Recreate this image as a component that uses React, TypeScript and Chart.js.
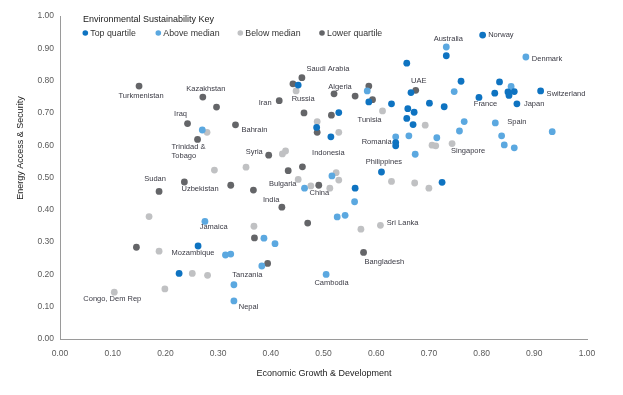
import React, { useEffect, useRef } from "react";
import { Chart, registerables } from "chart.js";

Chart.register(...registerables);

// ---------- data ----------
const SERIES_NAMES = ["Top quartile", "Above median", "Below median", "Lower quartile"];
const SERIES_COLORS = ["#0e73c1", "#5ba8e0", "#c0c1c3", "#646568"];

const X_TICKS = [0, 0.1, 0.2, 0.3, 0.4, 0.5, 0.6, 0.7, 0.8, 0.9, 1.0];
const Y_TICKS = [0, 0.1, 0.2, 0.3, 0.4, 0.5, 0.6, 0.7, 0.8, 0.9, 1.0];

const X_TITLE = "Economic Growth & Development";
const Y_TITLE = "Energy Access & Security";
const LEGEND_TITLE = "Environmental Sustainability Key";

// Top quartile
const topX = [0.802, 0.733, 0.658, 0.761, 0.834, 0.825, 0.850, 0.862, 0.852, 0.912, 0.795, 0.867, 0.666, 0.701, 0.729, 0.660, 0.672, 0.658, 0.670, 0.629, 0.586, 0.529, 0.452, 0.487, 0.514, 0.637, 0.637, 0.610, 0.560, 0.725, 0.262, 0.226];
const topY = [0.941, 0.877, 0.854, 0.798, 0.796, 0.761, 0.765, 0.766, 0.754, 0.768, 0.748, 0.728, 0.763, 0.730, 0.719, 0.713, 0.702, 0.683, 0.664, 0.728, 0.734, 0.701, 0.786, 0.655, 0.626, 0.608, 0.598, 0.517, 0.467, 0.485, 0.288, 0.203];
const topNames = ["Norway", "", "", "", "", "", "", "", "", "Switzerland", "France", "Japan", "", "", "", "", "", "", "", "", "", "", "", "", "Indonesia", "Romania", "", "Philippines", "", "", "Mozambique", ""];

// Above median
const aboveX = [0.733, 0.884, 0.748, 0.856, 0.583, 0.767, 0.826, 0.758, 0.934, 0.662, 0.715, 0.838, 0.843, 0.862, 0.674, 0.637, 0.270, 0.516, 0.464, 0.559, 0.526, 0.541, 0.387, 0.408, 0.275, 0.314, 0.324, 0.383, 0.330, 0.330, 0.505];
const aboveY = [0.904, 0.873, 0.766, 0.782, 0.768, 0.673, 0.669, 0.644, 0.642, 0.629, 0.623, 0.629, 0.601, 0.592, 0.572, 0.626, 0.647, 0.505, 0.467, 0.425, 0.378, 0.383, 0.312, 0.295, 0.364, 0.260, 0.263, 0.226, 0.168, 0.118, 0.200];
const aboveNames = ["Australia", "Denmark", "", "", "", "", "Spain", "", "", "", "", "", "", "", "", "", "", "", "Bulgaria", "", "", "", "", "", "Jamaica", "", "", "Tanzania", "", "Nepal", "Cambodia"];

// Below median
const belowX = [0.448, 0.612, 0.488, 0.529, 0.693, 0.706, 0.713, 0.744, 0.279, 0.293, 0.353, 0.422, 0.428, 0.524, 0.529, 0.629, 0.452, 0.476, 0.512, 0.673, 0.700, 0.169, 0.368, 0.571, 0.608, 0.188, 0.251, 0.280, 0.199, 0.103];
const belowY = [0.768, 0.706, 0.673, 0.640, 0.662, 0.600, 0.598, 0.605, 0.640, 0.523, 0.532, 0.573, 0.582, 0.515, 0.492, 0.488, 0.494, 0.474, 0.467, 0.483, 0.467, 0.379, 0.349, 0.340, 0.352, 0.272, 0.203, 0.197, 0.155, 0.145];
const belowNames = ["Russia", "Tunisia", "", "", "", "", "", "Singapore", "", "", "", "", "", "", "", "", "", "", "", "", "", "", "", "", "Sri Lanka", "", "", "", "", "Congo, Dem Rep"];

// Lower quartile
const lowerX = [0.150, 0.271, 0.297, 0.242, 0.333, 0.261, 0.459, 0.442, 0.416, 0.520, 0.560, 0.586, 0.593, 0.675, 0.463, 0.515, 0.488, 0.396, 0.460, 0.433, 0.236, 0.188, 0.324, 0.367, 0.491, 0.421, 0.470, 0.369, 0.394, 0.576, 0.145];
const lowerY = [0.783, 0.749, 0.718, 0.667, 0.663, 0.618, 0.809, 0.790, 0.738, 0.759, 0.752, 0.783, 0.741, 0.770, 0.700, 0.693, 0.640, 0.569, 0.533, 0.521, 0.486, 0.457, 0.476, 0.461, 0.476, 0.408, 0.359, 0.313, 0.234, 0.268, 0.284];
const lowerNames = ["Turkmenistan", "Kazakhstan", "", "Iraq", "Bahrain", "Trinidad &\nTobago", "Saudi Arabia", "", "Iran", "Algeria", "", "", "", "UAE", "", "", "", "Syria", "", "", "Uzbekistan", "Sudan", "", "", "China", "India", "", "", "", "Bangladesh", ""];

// ---------- layout (label offsets in px from the point: dx, dy, align) ----------
const LABEL_LAYOUT: Record<string, [number, number, CanvasTextAlign]> = {
  "Turkmenistan": [2, 10, "center"],
  "Kazakhstan": [3, -8, "center"],
  "Iraq": [-7, -10, "center"],
  "Trinidad &\nTobago": [-26, 7.5, "left"],
  "Bahrain": [6, 5, "left"],
  "Iran": [-14, 2, "center"],
  "Saudi Arabia": [26, -8.5, "center"],
  "Russia": [7, 8, "center"],
  "Algeria": [6, -7, "center"],
  "Tunisia": [-13, 9, "center"],
  "UAE": [3, -9, "center"],
  "Australia": [2, -8, "center"],
  "Norway": [5.5, 0, "left"],
  "Denmark": [6, 2, "left"],
  "Switzerland": [6, 3, "left"],
  "Japan": [7, 0, "left"],
  "France": [6.5, 7, "center"],
  "Spain": [12, -1, "left"],
  "Singapore": [16, 7, "center"],
  "Romania": [-4, -0.5, "right"],
  "Indonesia": [-2.5, 16.5, "center"],
  "Syria": [-14.5, -3, "center"],
  "Philippines": [2.5, -9.7, "center"],
  "Bulgaria": [-8, -4, "right"],
  "China": [0.6, 7.7, "center"],
  "India": [-10.7, -7.3, "center"],
  "Uzbekistan": [15.7, 7.3, "center"],
  "Sudan": [-4, -12, "center"],
  "Jamaica": [8.7, 5.7, "center"],
  "Mozambique": [-5, 7.3, "center"],
  "Congo, Dem Rep": [-2, 7, "center"],
  "Tanzania": [-14.5, 9, "center"],
  "Nepal": [14.6, 6, "center"],
  "Cambodia": [5.4, 8.7, "center"],
  "Bangladesh": [20.7, 9.7, "center"],
  "Sri Lanka": [6.4, -2.6, "left"],
};

const FONT = "'Liberation Sans', Arial, sans-serif";
const W = 623;
const H = 395;

const seriesX = [topX, aboveX, belowX, lowerX];
const seriesY = [topY, aboveY, belowY, lowerY];
const seriesNames = [topNames, aboveNames, belowNames, lowerNames];

const overlayPlugin = {
  id: "overlay",
  afterDatasetsDraw(chart: any) {
    const ctx = chart.ctx as CanvasRenderingContext2D;
    const xs = chart.scales.x;
    const ys = chart.scales.y;
    ctx.save();

    // Country labels
    ctx.font = `7.5px ${FONT}`;
    ctx.fillStyle = "#3a3a44";
    ctx.textBaseline = "middle";
    seriesNames.forEach((names, s) => {
      names.forEach((name, i) => {
        if (!name) return;
        const lay = LABEL_LAYOUT[name] || [0, 8, "center"];
        const px = xs.getPixelForValue(seriesX[s][i]);
        const py = ys.getPixelForValue(seriesY[s][i]);
        ctx.textAlign = lay[2];
        name.split("\n").forEach((line, li) => {
          ctx.fillText(line, px + lay[0], py + lay[1] + li * 9.5);
        });
      });
    });

    // Legend
    ctx.textAlign = "left";
    ctx.fillStyle = "#1a1a1a";
    ctx.font = `9px ${FONT}`;
    ctx.fillText(LEGEND_TITLE, 83, 19.5);
    const dotX = [85.3, 158.3, 240.3, 322];
    ctx.font = `8.8px ${FONT}`;
    SERIES_NAMES.forEach((n, i) => {
      ctx.fillStyle = SERIES_COLORS[i];
      ctx.beginPath();
      ctx.arc(dotX[i], 33, 2.8, 0, Math.PI * 2);
      ctx.fill();
      ctx.fillStyle = "#333";
      ctx.fillText(n, dotX[i] + 5, 33.3);
    });

    // Axis titles
    ctx.fillStyle = "#222";
    ctx.font = `9px ${FONT}`;
    ctx.textAlign = "center";
    ctx.fillText(X_TITLE, 324, 373.5);
    ctx.translate(21, 148);
    ctx.rotate(-Math.PI / 2);
    ctx.fillText(Y_TITLE, 0, 0);
    ctx.restore();
  },
};

export default function App() {
  const ref = useRef<HTMLCanvasElement | null>(null);

  useEffect(() => {
    document.body.style.margin = "0";
    const canvas = ref.current;
    if (!canvas) return;
    const datasets = SERIES_NAMES.map((label, s) => ({
      label,
      data: seriesX[s].map((x, i) => ({ x, y: seriesY[s][i] })),
      backgroundColor: SERIES_COLORS[s],
      borderWidth: 0,
      pointRadius: 3.4,
      pointHoverRadius: 3.4,
    }));
    const tickFont = { family: FONT, size: 8.5 };
    const chart = new Chart(canvas, {
      type: "scatter",
      data: { datasets },
      plugins: [overlayPlugin],
      options: {
        animation: false,
        responsive: false,
        devicePixelRatio: 1,
        layout: { padding: { top: 16, right: 36, left: 0, bottom: 0 } },
        plugins: { legend: { display: false }, tooltip: { enabled: false } },
        scales: {
          x: {
            type: "linear",
            min: 0,
            max: 1,
            afterBuildTicks: (scale: any) => {
              scale.ticks = X_TICKS.map((v) => ({ value: v }));
            },
            afterFit: (scale: any) => {
              scale.height = 56;
            },
            ticks: {
              font: tickFont,
              color: "#5a5a5a",
              padding: 10,
              maxRotation: 0,
              autoSkip: false,
              callback: (v: any) => Number(v).toFixed(2),
            },
            grid: { display: false, drawTicks: false },
            border: { display: true, color: "#9a9a9a", width: 1 },
          },
          y: {
            type: "linear",
            min: 0,
            max: 1,
            afterBuildTicks: (scale: any) => {
              scale.ticks = Y_TICKS.map((v) => ({ value: v }));
            },
            afterFit: (scale: any) => {
              scale.width = 60;
            },
            ticks: {
              font: tickFont,
              color: "#5a5a5a",
              padding: 6,
              autoSkip: false,
              callback: (v: any) => Number(v).toFixed(2),
            },
            grid: { display: false, drawTicks: false },
            border: { display: true, color: "#9a9a9a", width: 1 },
          },
        },
      },
    } as any);
    return () => chart.destroy();
  }, []);

  return (
    <div style={{ width: W, height: H, background: "#fff" }}>
      <canvas ref={ref} width={W} height={H} style={{ display: "block", width: W, height: H }} />
    </div>
  );
}
